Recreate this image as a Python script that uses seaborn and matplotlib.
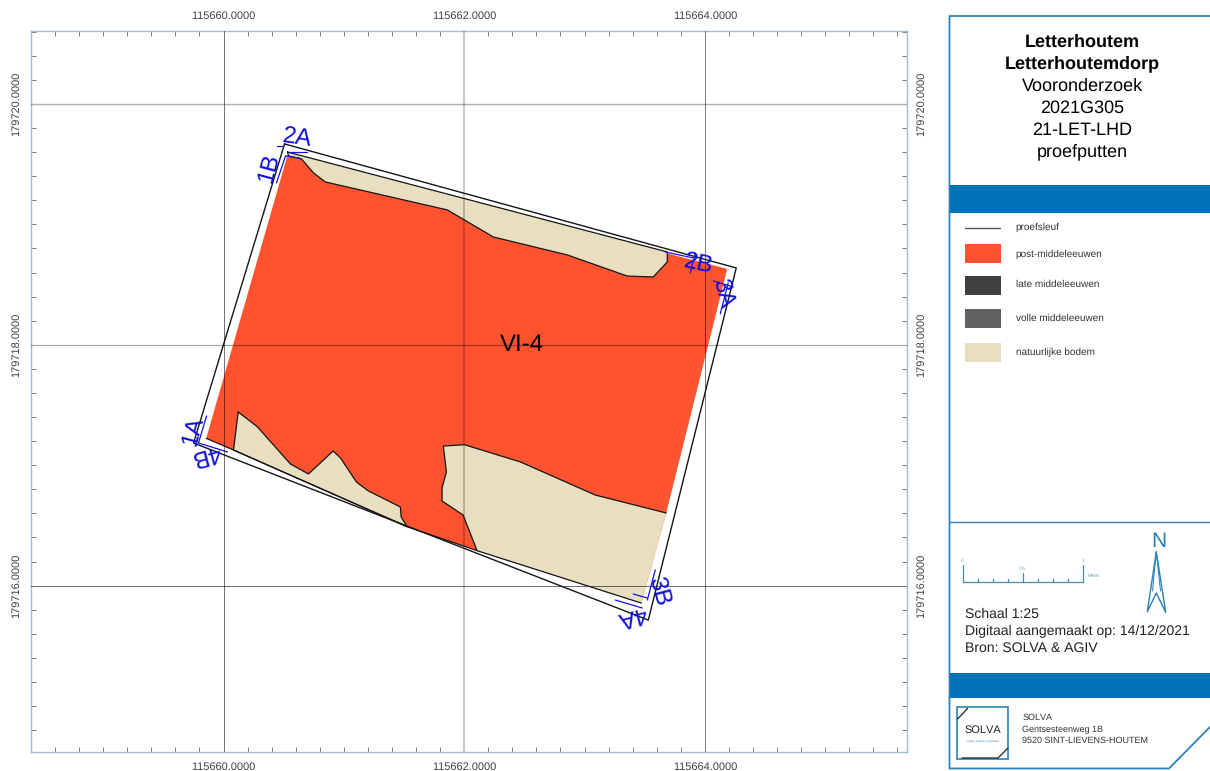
import numpy as np
import matplotlib
matplotlib.use('Agg')
import matplotlib.pyplot as plt
from matplotlib.patches import Rectangle
from matplotlib.ticker import FormatStrFormatter
import seaborn as sns

# coordinates in metres (Lambert)
trench_e = [115660.507, 115664.261, 115663.530, 115659.751]
trench_n = [179719.668, 179718.638, 179715.714, 179717.184]

red_e = [115660.532, 115664.186, 115663.679, 115663.472, 115662.107, 115661.526, 115660.083, 115659.856]
red_n = [179719.576, 179718.630, 179716.603, 179715.855, 179716.290, 179716.489, 179717.126, 179717.223]

tan_top_e = [115660.532, 115663.688, 115663.688, 115663.571, 115663.355, 115662.857, 115662.243,
             115661.860, 115660.847, 115660.748, 115660.648, 115660.540]
tan_top_n = [179719.601, 179718.771, 179718.688, 179718.563, 179718.571, 179718.746, 179718.895,
             179719.120, 179719.352, 179719.427, 179719.543, 179719.568]

tan_left_e = [115660.122, 115660.280, 115660.556, 115660.706, 115660.911, 115660.972, 115661.105,
              115661.204, 115661.470, 115661.476, 115661.526, 115660.083]
tan_left_n = [179717.442, 179717.320, 179717.010, 179716.927, 179717.118, 179717.060, 179716.860,
              179716.786, 179716.653, 179716.570, 179716.489, 179717.126]

tan_right_e = [115663.679, 115663.090, 115662.467, 115662.002, 115661.827, 115661.852, 115661.816,
               115661.816, 115661.991, 115662.107, 115663.472]
tan_right_n = [179716.603, 179716.752, 179717.027, 179717.170, 179717.159, 179716.944, 179716.811,
               179716.703, 179716.586, 179716.290, 179715.855]

edge_e = [115659.856, 115660.083, 115661.526, 115662.107]
edge_n = [179717.223, 179717.126, 179716.489, 179716.290]

# blue profile marks: (e0, n0, e1, n1)
profile_marks = [
    (115660.446, 179719.651, 115660.496, 179719.651),
    (115660.540, 179719.601, 115660.695, 179719.601),
    (115660.440, 179719.344, 115660.515, 179719.568),
    (115660.515, 179719.568, 115660.631, 179719.551),
    (115659.859, 179717.409, 115659.792, 179717.184),
    (115659.792, 179717.184, 115660.033, 179717.110),
    (115663.588, 179716.130, 115663.522, 179715.880),
    (115663.405, 179715.930, 115663.522, 179715.897),
    (115663.256, 179715.880, 115663.480, 179715.814),
    (115663.671, 179718.771, 115663.904, 179718.721),
    (115663.879, 179718.596, 115663.920, 179718.762),
    (115664.070, 179718.530, 115664.236, 179718.480),
    (115664.128, 179718.256, 115664.194, 179718.513),
]
profile_names = ['2A', '1B', '1A', '4B', '2B', '3A', '3B', '4A']
profile_e = [115660.615, 115660.374, 115659.743, 115659.850, 115663.945, 115664.140, 115663.610, 115663.397]
profile_n = [179719.718, 179719.469, 179717.285, 179717.090, 179718.672, 179718.425, 179715.950, 179715.750]
profile_rot = [-8, 75, 75, 195, -12, -75, -75, 195]

x_major = [115660, 115662, 115664]
y_major = [179716, 179718, 179720]

legend_labels = ['post-middeleeuwen', 'late middeleeuwen', 'volle middeleeuwen', 'natuurlijke bodem']
legend_colors = ['#FF5330', '#404040', '#626262', '#E8DEC0']
title_lines = ['Letterhoutem', 'Letterhoutemdorp', 'Vooronderzoek', '2021G305', '21-LET-LHD', 'proefputten']

sns.set_theme(style='white', font='Liberation Sans')
plt.rcParams['font.family'] = ['Liberation Sans', 'DejaVu Sans']
plt.rcParams['text.hinting'] = 'none'
plt.rcParams['text.hinting_factor'] = 1

fig = plt.figure(figsize=(12.10, 7.71), dpi=100)
W, H = 1210, 771
ax = fig.add_axes([31 / W, (H - 752) / H, 876 / W, 721 / H])

ax.fill(red_e, red_n, color='#FF5330', lw=0, zorder=3)
for e, n in [(tan_top_e, tan_top_n), (tan_left_e, tan_left_n), (tan_right_e, tan_right_n)]:
    ax.fill(e, n, color='#E8DEC0', lw=0, zorder=4)

# grid lies over the polygons, semi transparent
ax.axvline(115660, color='black', alpha=0.55, lw=0.7, zorder=4.5)
ax.axvline(115662, color='black', alpha=0.27, lw=1.1, zorder=4.5)
ax.axvline(115664, color='black', alpha=0.5, lw=0.75, zorder=4.5)
ax.axhline(179720, color='black', alpha=0.32, lw=1.0, zorder=4.5)
ax.axhline(179718, color='black', alpha=0.35, lw=0.9, zorder=4.5)
ax.axhline(179716, color='black', alpha=0.55, lw=0.75, zorder=4.5)

sns.lineplot(x=trench_e + trench_e[:1], y=trench_n + trench_n[:1], sort=False, estimator=None,
             color='#151515', lw=1.0, ax=ax, zorder=5)
for e, n in [(tan_top_e + tan_top_e[:1], tan_top_n + tan_top_n[:1]),
             (tan_left_e + tan_left_e[:1], tan_left_n + tan_left_n[:1]),
             (tan_right_e, tan_right_n),
             (edge_e, edge_n)]:
    sns.lineplot(x=e, y=n, sort=False, estimator=None, color='#151515', lw=0.9, ax=ax, zorder=5)

for e0, n0, e1, n1 in profile_marks:
    ax.plot([e0, e1], [n0, n1], color='#1414e0', lw=0.9, zorder=6)
for name, e, n, rot in zip(profile_names, profile_e, profile_n, profile_rot):
    ax.text(e, n, name, color='#0c0cdc', fontsize=17.5, rotation=rot, ha='center', va='center',
            rotation_mode='anchor', zorder=7)
ax.text(115662.48, 179718.0, 'VI-4', color='black', fontsize=17.5, ha='center', va='center', zorder=7)

ax.set_xlim(115658.405, 115665.68)
ax.set_ylim(179714.618, 179720.606)
ax.set_xticks(x_major)
ax.set_yticks(y_major)
ax.set_xticks(np.arange(115658.4, 115665.7, 0.2), minor=True)
ax.set_yticks(np.arange(179714.8, 179720.7, 0.2), minor=True)
ax.xaxis.set_major_formatter(FormatStrFormatter('%.4f'))
ax.yaxis.set_major_formatter(FormatStrFormatter('%.4f'))
ax.tick_params(which='major', length=0, labelsize=7.8, labelcolor='#404040', pad=6.8,
               top=True, bottom=True, left=True, right=True,
               labeltop=True, labelbottom=True, labelleft=True, labelright=True)
ax.tick_params(which='minor', direction='in', length=3.5, width=0.6, color='#666666',
               top=True, bottom=True, left=True, right=True)
for lab in ax.get_yticklabels():
    lab.set_rotation(90)
    lab.set_va('center')
for side in ax.spines.values():
    side.set_color('#9cc0cf')
    side.set_linewidth(1.0)

# side panel, drawn in pixel units
p = fig.add_axes([0, 0, 1, 1], facecolor='none')
p.set_xlim(0, W)
p.set_ylim(H, 0)
p.axis('off')
BLUE = '#0070B8'
LINE = '#2C83B8'

p.plot([1210, 949.5, 949.5, 1169, 1210], [16, 16, 768.5, 768.5, 727], color=LINE, lw=1.3, clip_on=False)
p.plot([949.5, 1210], [521.5, 521.5], color=LINE, lw=1.0)
p.add_patch(Rectangle((949, 185), 261, 28, color=BLUE, lw=0))
p.add_patch(Rectangle((949, 672.5), 261, 25, color=BLUE, lw=0))

title_y = [46.6, 68.6, 90.6, 112.6, 134.6, 156.6]
for i, (txt, y) in enumerate(zip(title_lines, title_y)):
    p.text(1082, y, txt, fontsize=13, fontweight='bold' if i < 2 else 'normal',
           color='black', ha='center', va='baseline')

p.plot([965, 1000], [227.7, 227.7], color='#555555', lw=1.0)
p.text(1015.5, 227.5, 'proefsleuf', fontsize=6.9, color='#333333', va='center')
legend_box = [(244, 19), (275.5, 19.5), (309, 19), (342.5, 19)]
legend_y = [254, 284.5, 318.5, 352]
for lab, col, (y0, h), yt in zip(legend_labels, legend_colors, legend_box, legend_y):
    p.add_patch(Rectangle((965, y0), 36, h, color=col, lw=0))
    p.text(1015.5, yt, lab, fontsize=6.9, color='#333333', va='center')

# scale bar
SC = '#3F8FB5'
p.plot([962.5, 962.5, 1082.7, 1082.7], [565, 581.5, 581.5, 565], color=SC, lw=0.9)
p.plot([1022.6, 1022.6], [573, 581.5], color=SC, lw=0.9)
for tx in [977.7, 992.7, 1007.7, 1037.7, 1052.7, 1067.7]:
    p.plot([tx, tx], [579, 581.5], color=SC, lw=0.9)
for tx, ty, s in [(962.5, 561, '0'), (1022.6, 569, '0.5'), (1082.7, 561, '1')]:
    p.text(tx, ty, s, fontsize=3.8, color='#6FA8C4', ha='center', va='center')
p.text(1088, 575.5, 'Meter', fontsize=3.8, color='#6FA8C4', va='center')

# north arrow
p.text(1158.5, 541.5, 'N', fontsize=15, color='#2A7FB5', ha='center', va='center')
p.plot([1156.3, 1147.3, 1156.3, 1165.7, 1156.3], [552, 611.7, 593, 612.3, 552], color='#2A7FB5', lw=1.0)
p.plot([1152.5, 1156.3, 1160.5], [591, 552, 591], color='#2A7FB5', lw=0.7)

for y, txt in zip([618, 635, 652], ['Schaal 1:25', 'Digitaal aangemaakt op: 14/12/2021', 'Bron: SOLVA & AGIV']):
    p.text(964.7, y, txt, fontsize=9.8, color='#222222', va='baseline')

# logo
p.add_patch(Rectangle((957.3, 707.3), 51, 52, fill=False, ec=LINE, lw=1.2))
p.plot([957.5, 967.5], [719, 708.5], color='#333333', lw=1.0)
p.plot([962, 998, 1008], [758, 758, 748], color='#333333', lw=1.0)
p.text(982.7, 730.5, 'SOLVA', fontsize=8.2, color='#222222', ha='center', va='center')
p.text(982.7, 740.7, 'regio | project | partners', fontsize=2.4, color='#2C83B8', ha='center', va='center')
for y, txt in zip([718, 730, 741], ['SOLVA', 'Gentsesteenweg 1B', '9520 SINT-LIEVENS-HOUTEM']):
    p.text(1022.3, y, txt, fontsize=6.7, color='#333333', va='center')

fig.savefig('out.png', dpi=100)
